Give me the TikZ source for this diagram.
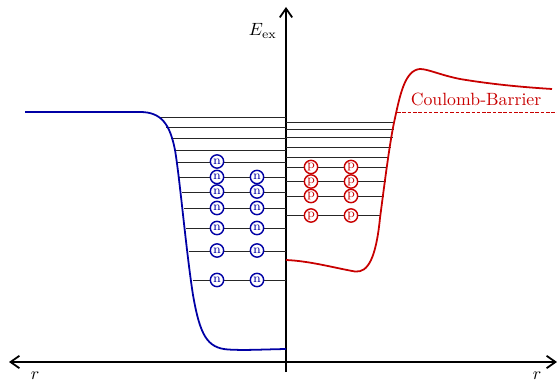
\documentclass[tikz,border=0pt]{standalone}
\usepackage{amsmath}
\usepackage{tikz}
\usetikzlibrary{arrows.meta,calc,positioning}
\definecolor{nucblue}{RGB}{0,0,165}
\definecolor{nucred}{RGB}{200,0,0}

\begin{document}
\begin{tikzpicture}[
      x=0.5637pt, y=-0.5637pt,
      axis/.style={line width=1pt, {Straight Barb[length=5pt,width=7pt]}-{Straight Barb[length=5pt,width=7pt]}},
      level/.style={black!85, line width=0.4pt},
      nucleon/.style={circle, fill=white, line width=0.8pt, inner sep=0pt, minimum size=7.5pt, font=\scriptsize},
      neutron/.style={nucleon, draw=nucblue, text=nucblue},
      proton/.style={nucleon, draw=nucred, text=nucred},
      well/.style={line width=1pt, line join=round}
    ]
      \useasboundingbox (0,0) rectangle (557,382);

      % axes
      \coordinate (origin) at (286,362);
      \coordinate (rleft) at (9,362);
      \coordinate (rright) at (557,362);
      \coordinate (etop) at (286,7);
      \coordinate (ebottom) at (286,372);
      \draw[axis] (rleft) -- (rright);
      \draw[line width=1pt, -{Straight Barb[length=5pt,width=7pt]}] (ebottom) -- (etop);
      \node[anchor=east] (elabel) at (283,31) {$E_{\text{ex}}$};
      \node (rlabelL) at (35,376) {$r$};
      \node (rlabelR) at (537,376) {$r$};

      % neutron levels
      \foreach \x/\y in {160/117, 166/127, 171/138, 175/150, 177/162, 179/177, 182/192, 184/208, 186/228, 189/251, 193/280}
        \draw[level] (\x,\y) -- (286,\y);

      % proton levels
      \foreach \x/\y in {395/122, 394/129, 393/137.5, 391/147, 389/157, 387/167, 386/181.5, 384/196, 381/215.5}
        \draw[level] (286,\y) -- (\x,\y);

      % neutron well
      \draw[well, nucblue] (25,112) -- (140,112)
        .. controls (162,112) and (170,125) .. (175,150)
        .. controls (180,180) and (186,250) .. (193,295)
        .. controls (200,335) and (207,348) .. (228,349.5)
        .. controls (245,350.5) and (260,349.5) .. (286,349);

      % proton well with barrier
      \draw[well, nucred] (286,260)
        .. controls (310,261) and (335,268) .. (355,271.5)
        .. controls (368,273) and (376,258) .. (380,218)
        .. controls (385,180) and (390,140) .. (395,118)
        .. controls (400,95) and (405,70) .. (420,69)
        .. controls (428,69) and (440,75) .. (460,79)
        .. controls (490,84) and (520,87) .. (552,89);

      \coordinate (cbstart) at (397,112);
      \coordinate (cbend) at (557,112);
      \draw[nucred, line width=0.5pt, dash pattern=on 2pt off 1pt] (cbstart) -- (cbend);
      \node[text=nucred] (cblabel) at (476,99) {Coulomb-Barrier};

      % neutrons
      \node[neutron] (n0) at (217,161.5) {n};
      \foreach \y [count=\i] in {177,191.5,208,228,250.5,280} {
        \node[neutron] (na\i) at (217,\y) {n};
        \node[neutron] (nb\i) at (257,\y) {n};
      }

      % protons
      \foreach \y [count=\i] in {167,181.5,196,215.5} {
        \node[proton] (pa\i) at (311,\y) {p};
        \node[proton] (pb\i) at (351,\y) {p};
      }
    \end{tikzpicture}
\end{document}
